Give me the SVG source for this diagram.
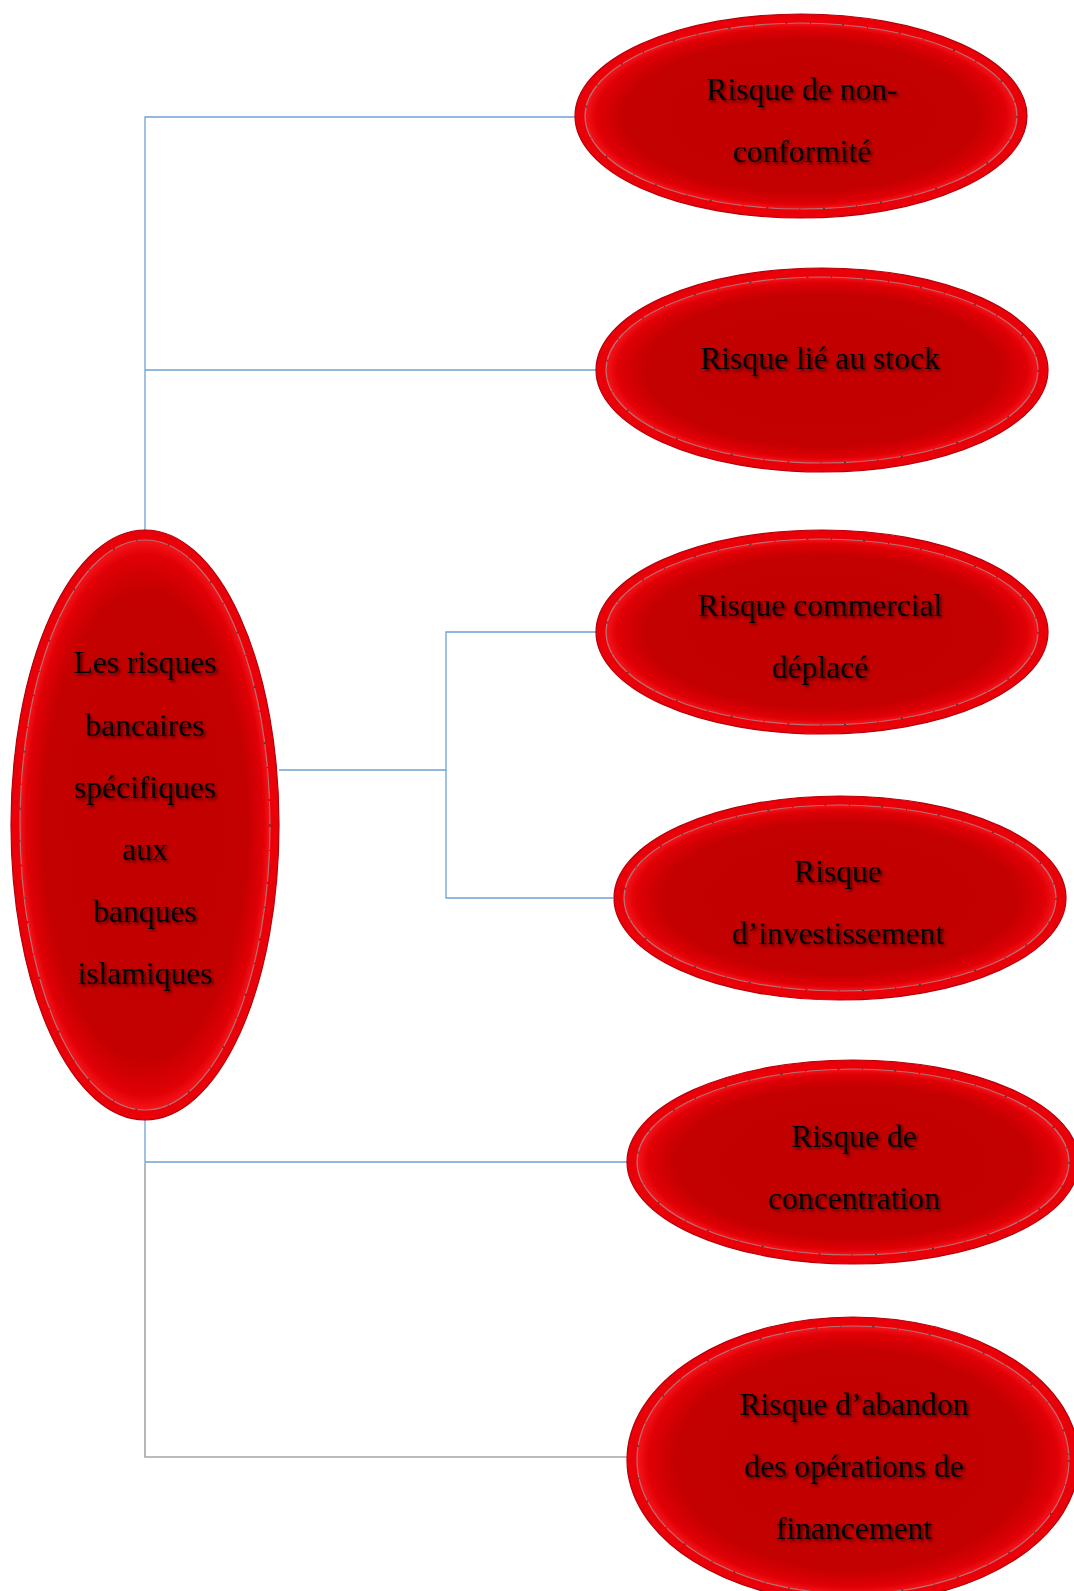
<svg xmlns="http://www.w3.org/2000/svg" width="1074" height="1591" viewBox="0 0 1074 1591">
  <style>
    .rim { fill: #ea0008; stroke: #b3000a; stroke-width: 1.2; }
    .face { fill: url(#faceGrad); stroke: #b87070; stroke-width: 1.2; }
    .speck { fill: none; stroke: #3a1010; stroke-width: 1.2; stroke-dasharray: 2 23 1 31; opacity: 0.7; }
    .lbl { font-family: "Liberation Serif", "Times New Roman", serif; font-size: 31.6px; fill: #000; text-anchor: middle; filter: url(#txtShadow); }
    .link { fill: none; stroke: #6fa0d6; stroke-width: 1.3; }
    .link-grey { fill: none; stroke: #a6a6a6; stroke-width: 1.6; }
  </style>
  <defs>
    <radialGradient id="faceGrad" cx="50%" cy="50%" r="50%">
      <stop offset="0" stop-color="#c20000"/>
      <stop offset="0.82" stop-color="#c40000"/>
      <stop offset="0.95" stop-color="#e00006"/>
      <stop offset="1" stop-color="#f5141a"/>
    </radialGradient>
    <filter id="txtShadow" x="-10%" y="-30%" width="130%" height="170%">
      <feDropShadow dx="2" dy="2" stdDeviation="1.4" flood-color="#2a0000" flood-opacity="0.75"/>
    </filter>
  </defs>

  <rect width="1074" height="1591" fill="#ffffff"/>

  <!-- connectors -->
  <g id="connectors">
    <polyline class="link" points="576,117 145,117 145,531"/>
    <line class="link" x1="145" y1="370" x2="596" y2="370"/>
    <polyline class="link" points="279,770 446,770"/>
    <polyline class="link" points="596,632 446,632 446,898 613,898"/>
    <polyline class="link" points="145,1119 145,1162 627,1162"/>
    <polyline class="link-grey" points="145,1163 145,1457 627,1457"/>
  </g>

  <!-- central node -->
  <g id="node-root">
    <ellipse class="rim" cx="145" cy="825" rx="134" ry="295"/>
    <ellipse class="face" cx="145" cy="825" rx="125" ry="285"/>
    <ellipse class="speck" cx="145" cy="825" rx="125" ry="285"/>
    <text class="lbl" x="145" y="673">Les risques</text>
    <text class="lbl" x="145" y="736">bancaires</text>
    <text class="lbl" x="145" y="798">spécifiques</text>
    <text class="lbl" x="145" y="860">aux</text>
    <text class="lbl" x="145" y="922">banques</text>
    <text class="lbl" x="145" y="984">islamiques</text>
  </g>

  <g id="node-conformite">
    <ellipse class="rim" cx="801" cy="116" rx="226" ry="102"/>
    <ellipse class="face" cx="801" cy="116" rx="216" ry="93"/>
    <ellipse class="speck" cx="801" cy="116" rx="216" ry="93"/>
    <text class="lbl" x="802" y="100">Risque de non-</text>
    <text class="lbl" x="802" y="162">conformité</text>
  </g>

  <g id="node-stock">
    <ellipse class="rim" cx="822" cy="370" rx="226" ry="102"/>
    <ellipse class="face" cx="822" cy="370" rx="216" ry="93"/>
    <ellipse class="speck" cx="822" cy="370" rx="216" ry="93"/>
    <text class="lbl" x="820" y="369">Risque lié au stock</text>
  </g>

  <g id="node-commercial">
    <ellipse class="rim" cx="822" cy="632" rx="226" ry="102"/>
    <ellipse class="face" cx="822" cy="632" rx="216" ry="93"/>
    <ellipse class="speck" cx="822" cy="632" rx="216" ry="93"/>
    <text class="lbl" x="820" y="616">Risque commercial</text>
    <text class="lbl" x="820" y="678">déplacé</text>
  </g>

  <g id="node-investissement">
    <ellipse class="rim" cx="840" cy="898" rx="226" ry="102"/>
    <ellipse class="face" cx="840" cy="898" rx="216" ry="93"/>
    <ellipse class="speck" cx="840" cy="898" rx="216" ry="93"/>
    <text class="lbl" x="838" y="882">Risque</text>
    <text class="lbl" x="838" y="944">d’investissement</text>
  </g>

  <g id="node-concentration">
    <ellipse class="rim" cx="853" cy="1162" rx="226" ry="102"/>
    <ellipse class="face" cx="853" cy="1162" rx="216" ry="93"/>
    <ellipse class="speck" cx="853" cy="1162" rx="216" ry="93"/>
    <text class="lbl" x="854" y="1147">Risque de</text>
    <text class="lbl" x="854" y="1209">concentration</text>
  </g>

  <g id="node-abandon">
    <ellipse class="rim" cx="853" cy="1460" rx="226" ry="143"/>
    <ellipse class="face" cx="853" cy="1460" rx="216" ry="134"/>
    <ellipse class="speck" cx="853" cy="1460" rx="216" ry="134"/>
    <text class="lbl" x="854" y="1415">Risque d’abandon</text>
    <text class="lbl" x="854" y="1477">des opérations de</text>
    <text class="lbl" x="854" y="1539">financement</text>
  </g>
</svg>
